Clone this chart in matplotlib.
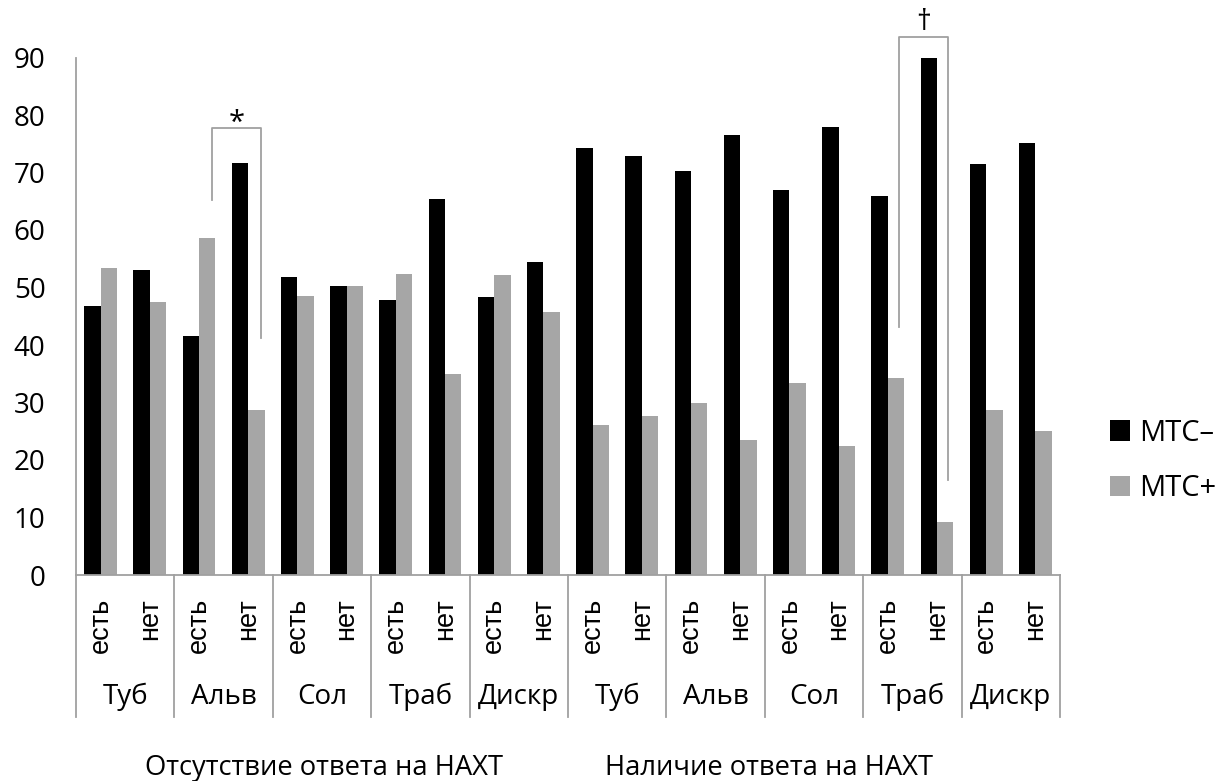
import matplotlib
matplotlib.use("Agg")
import matplotlib.pyplot as plt
import matplotlib.transforms as mtransforms
import numpy as np

# Data: percentage of patients by metastasis status (МТС–/МТС+)
groups = ["Туб", "Альв", "Сол", "Траб", "Дискр", "Туб", "Альв", "Сол", "Траб", "Дискр"]
sublabels = ["есть", "нет"]
mts_neg = [46.7, 53.0, 41.6, 71.7, 51.9, 50.2, 47.8, 65.4, 48.3, 54.5,
           74.3, 72.8, 70.2, 76.6, 67.0, 78.0, 65.9, 90.2, 71.5, 75.1]
mts_pos = [53.4, 47.4, 58.6, 28.7, 48.5, 50.2, 52.3, 34.9, 52.1, 45.7,
           26.1, 27.7, 30.0, 23.5, 33.4, 22.4, 34.3, 9.3, 28.7, 25.0]
series_names = ["МТС–", "МТС+"]
response_labels = ["Отсутствие ответа на НАХТ", "Наличие ответа на НАХТ"]
yticks = [0, 10, 20, 30, 40, 50, 60, 70, 80, 90]

BLACK = "#000000"
GREY = "#a6a6a6"
AXIS = "#a0a0a0"
MAIN_FONT = ["Open Sans", "DejaVu Sans"]
ROT_FONT = ["Liberation Sans", "DejaVu Sans"]

fig = plt.figure(figsize=(12.16, 7.81), dpi=100)
ax = fig.add_axes([76 / 1216, 1 - 575 / 781, (1060 - 76) / 1216, (575 - 57.5) / 781])

n = len(mts_neg)
x = np.arange(n)
w = 1 / 3
ax.bar(x - w / 2, mts_neg, width=w, color=BLACK, label=series_names[0], zorder=2)
ax.bar(x + w / 2, mts_pos, width=w, color=GREY, label=series_names[1], zorder=2)

ax.set_xlim(-0.5, n - 0.5)
ax.set_ylim(0, 90)
ax.set_yticks(yticks)
ax.set_yticklabels([str(t) for t in yticks], fontsize=20, family=MAIN_FONT)
ax.tick_params(axis="y", length=0, pad=22)
ax.set_xticks([])

for side in ("top", "right"):
    ax.spines[side].set_visible(False)
for side in ("left", "bottom"):
    ax.spines[side].set_color(AXIS)
    ax.spines[side].set_linewidth(1.3)

# Category sub-labels (rotated) and group labels under the axis
tr = mtransforms.blended_transform_factory(ax.transData, ax.transAxes)
for i in range(n):
    ax.text(i, -0.044, sublabels[i % 2], rotation=90, ha="center", va="top",
            fontsize=19.5, family=ROT_FONT, transform=tr, clip_on=False)
for g, name in enumerate(groups):
    ax.text(2 * g + 0.5, -0.236, name, ha="center", va="center",
            fontsize=20, family=MAIN_FONT, transform=tr, clip_on=False)
for b in range(len(groups) + 1):
    ax.plot([2 * b - 0.5, 2 * b - 0.5], [0, -0.2744], color=AXIS, lw=1.3,
            transform=tr, clip_on=False)

# Significance brackets
def bracket(x0, x1, ytop, yl, yr, mark, dy):
    ax.plot([x0, x0, x1, x1], [yl, ytop, ytop, yr], color=AXIS, lw=1.3,
            clip_on=False, zorder=3)
    ax.text((x0 + x1) / 2, ytop + dy, mark, ha="center", va="baseline",
            fontsize=21, family=MAIN_FONT, clip_on=False)

bracket(2.26, 3.27, 77.7, 65.2, 41.2, "*", -0.4)
bracket(16.22, 17.22, 93.6, 43.2, 16.5, "†", 1.2)

# Response group captions
fig.text(324 / 1216, 1 - 775 / 781, response_labels[0], ha="center", va="baseline",
         fontsize=19.7, family=MAIN_FONT)
fig.text(769 / 1216, 1 - 775 / 781, response_labels[1], ha="center", va="baseline",
         fontsize=19.7, family=MAIN_FONT)

leg = fig.legend(loc="center left", bbox_to_anchor=(1110 / 1216, 1 - 461 / 781),
                 frameon=False, prop={"family": MAIN_FONT, "size": 21},
                 handlelength=0.7, handleheight=0.7, handletextpad=0.3,
                 labelspacing=0.9, borderpad=0, borderaxespad=0)

fig.savefig("out.png", dpi=100, facecolor="white")
